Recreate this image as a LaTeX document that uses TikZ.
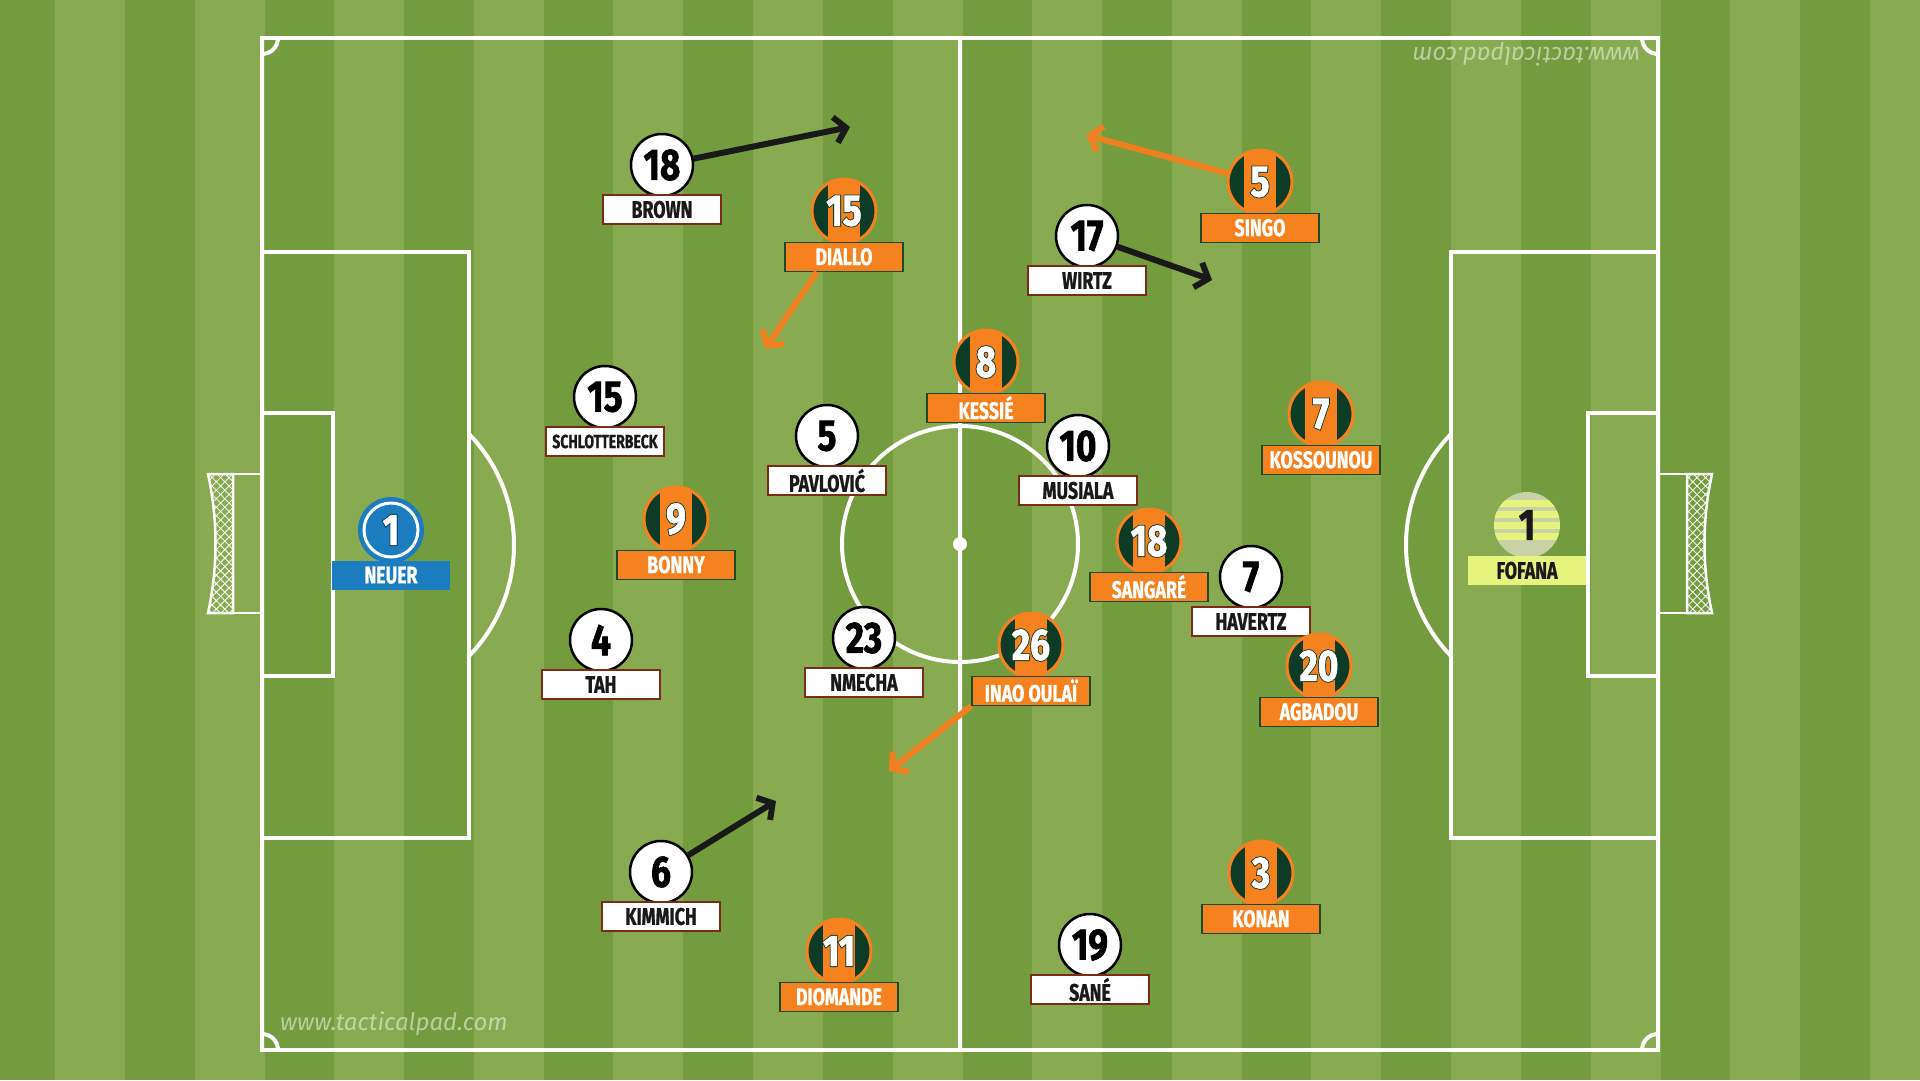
\documentclass[tikz,border=0pt]{standalone}
\usepackage{fontspec}
\setmainfont{Fira Sans}
\newfontfamily\namefont{Fira Sans}[FakeStretch=0.74,FakeBold=0.8]
\newfontfamily\numfont{Fira Sans}[FakeStretch=0.8,FakeBold=1.5]
\newfontfamily\numthick{Fira Sans}[FakeStretch=0.8,FakeBold=5.5]
\newfontfamily\wmfont{Fira Sans}
\usepackage{tikz}
\usetikzlibrary{positioning,arrows.meta,patterns.meta}

\definecolor{pitchdark}{HTML}{739C3F}
\definecolor{pitchlight}{HTML}{88AA50}
\definecolor{civorange}{HTML}{F5821F}
\definecolor{civgreen}{HTML}{0D3B26}
\definecolor{civedge}{HTML}{1E4A2A}
\definecolor{geredge}{HTML}{7A2C18}
\definecolor{keeperblue}{HTML}{1C7CC0}
\definecolor{keepernavy}{HTML}{0E3552}
\definecolor{keeperlime}{HTML}{E6F47E}
\definecolor{keeperpale}{HTML}{C8D2A6}
\definecolor{runorange}{HTML}{F0801F}

% white digits with a dark rim
\newcommand{\rimnum}[2]{\makebox[0pt]{\color{#1}\numthick\bfseries #2}\makebox[0pt]{#2}}

\begin{document}
\begin{tikzpicture}[x=1pt, y=-1pt,
  chalk/.style={white, line width=4pt},
  net/.style={white, line width=2.5pt, pattern={Hatch[angle=45,distance=6pt,line width=0.8pt]}, pattern color=white},
  watermark/.style={text=white, opacity=0.5, font=\wmfont\itshape\fontsize{24}{24}\selectfont},
  gernum/.style={circle, fill=white, draw=black, line width=2.5pt, minimum size=62pt, inner sep=0pt,
    font=\numfont\bfseries\fontsize{44}{44}\selectfont, text=black},
  civnum/.style={circle, fill=civorange, draw=civorange, line width=3pt, minimum size=64pt, inner sep=0pt,
    font=\numfont\bfseries\fontsize{44}{44}\selectfont, text=white,
    path picture={
      \fill[civgreen] ([xshift=-40pt]path picture bounding box.south) rectangle ([xshift=-16pt]path picture bounding box.north);
      \fill[civgreen] ([xshift=16pt]path picture bounding box.south) rectangle ([xshift=40pt]path picture bounding box.north);}},
  bluekeeper/.style={circle, fill=keeperblue, draw=keeperblue, line width=2pt, minimum size=64pt, inner sep=0pt,
    font=\numfont\bfseries\fontsize{44}{44}\selectfont, text=white,
    path picture={\draw[white, line width=3pt] (path picture bounding box.center) circle (27);}},
  limekeeper/.style={circle, fill=keeperpale, minimum size=66pt, inner sep=0pt,
    font=\numfont\bfseries\fontsize{44}{44}\selectfont, text=black!90,
    path picture={
      \foreach \j in {0,...,3}
        \fill[keeperlime] ([yshift={-8pt-11pt*\j}]path picture bounding box.north west) rectangle ([yshift={-15pt-11pt*\j}]path picture bounding box.north east);}},
  gername/.style={rectangle, fill=white, draw=geredge, line width=1.5pt, minimum width=118pt, minimum height=29pt, inner sep=0pt,
    font=\namefont\bfseries\fontsize{24}{24}\selectfont, text=black!90},
  civname/.style={gername, fill=civorange, draw=civedge, text=white},
  bluename/.style={gername, fill=keeperblue, draw=none, text=white},
  limename/.style={gername, fill=keeperlime, draw=none, text=black!90},
  gerrun/.style={black!90, line width=6pt, -{Straight Barb[length=11pt, width=26pt]}},
  civrun/.style={gerrun, runorange},
]
\useasboundingbox (0,0) rectangle (1920,1080);

% grass
\fill[pitchlight] (0,0) rectangle (1920,1080);
\foreach \k in {0,...,13}
  \fill[pitchdark] ({-14.6+139.6*\k},0) rectangle ({55+139.6*\k},1080);

% markings
\draw[chalk] (262,38) rectangle (1658,1050);
\draw[chalk] (960,38) -- (960,1050);
\draw[chalk] (960,544) circle (118);
\fill[white] (960,544) circle (7);
\draw[chalk] (262,252) rectangle (469,838);
\draw[chalk] (1658,252) rectangle (1451,838);
\draw[chalk] (262,413) rectangle (333,676);
\draw[chalk] (1658,413) rectangle (1588,676);
\draw[chalk] (354.5,545) ++(-44:159.5) arc (-44:44:159.5);
\draw[chalk] (1565.5,545) ++(136:159.5) arc (136:224:159.5);
\draw[chalk] (278,38) arc (0:90:16);
\draw[chalk] (1642,38) arc (180:90:16);
\draw[chalk] (278,1050) arc (0:-90:16);
\draw[chalk] (1642,1050) arc (180:270:16);

% goals
\draw[white, line width=2.5pt] (262,474) -- (208,474) (262,613) -- (208,613);
\draw[net] (208,474) .. controls (218,520) and (218,567) .. (208,613) -- (233,613) -- (233,474) -- cycle;
\draw[white, line width=2.5pt] (1658,474) -- (1712,474) (1658,613) -- (1712,613);
\draw[net] (1712,474) .. controls (1702,520) and (1702,567) .. (1712,613) -- (1687,613) -- (1687,474) -- cycle;

\node[watermark] (wm-low) at (394,1024) {www.tacticalpad.com};
\node[watermark, rotate=180] (wm-high) at (1526,54) {www.tacticalpad.com};

% Germany
\node[bluekeeper] (neuer) at (391,530) {\rimnum{keepernavy}{1}};
\node[bluename, below=-3pt of neuer] (neuer-name) {NEUER};
\node[gernum] (brown) at (662,165) {18};
\node[gername, below=-3pt of brown] (brown-name) {BROWN};
\node[gernum] (wirtz) at (1087,236) {17};
\node[gername, below=-3pt of wirtz] (wirtz-name) {WIRTZ};
\node[gernum] (schlotterbeck) at (605,397) {15};
\node[gername, below=-3pt of schlotterbeck, font=\namefont\bfseries\fontsize{19}{19}\selectfont] (schlotterbeck-name) {SCHLOTTERBECK};
\node[gernum] (pavlovic) at (827,436) {5};
\node[gername, below=-3pt of pavlovic] (pavlovic-name) {PAVLOVIĆ};
\node[gernum] (musiala) at (1078,446) {10};
\node[gername, below=-3pt of musiala] (musiala-name) {MUSIALA};
\node[gernum] (havertz) at (1251,577) {7};
\node[gername, below=-3pt of havertz] (havertz-name) {HAVERTZ};
\node[gernum] (tah) at (601,640) {4};
\node[gername, below=-3pt of tah] (tah-name) {TAH};
\node[gernum] (nmecha) at (864,638) {23};
\node[gername, below=-3pt of nmecha] (nmecha-name) {NMECHA};
\node[gernum] (kimmich) at (661,872) {6};
\node[gername, below=-3pt of kimmich] (kimmich-name) {KIMMICH};
\node[gernum] (sane) at (1090,945) {19};
\node[gername, below=-3pt of sane] (sane-name) {SANÉ};

% Ivory Coast
\node[limekeeper] (fofana) at (1527,525) {1};
\node[limename, below=-3pt of fofana] (fofana-name) {FOFANA};
\node[civnum] (diallo) at (844,211) {\rimnum{civgreen}{15}};
\node[civname, below=-3pt of diallo] (diallo-name) {DIALLO};
\node[civnum] (singo) at (1260,182) {\rimnum{civgreen}{5}};
\node[civname, below=-3pt of singo] (singo-name) {SINGO};
\node[civnum] (kessie) at (986,362) {\rimnum{civgreen}{8}};
\node[civname, below=-3pt of kessie] (kessie-name) {KESSIÉ};
\node[civnum] (kossounou) at (1321,414) {\rimnum{civgreen}{7}};
\node[civname, below=-3pt of kossounou] (kossounou-name) {KOSSOUNOU};
\node[civnum] (bonny) at (676,519) {\rimnum{civgreen}{9}};
\node[civname, below=-3pt of bonny] (bonny-name) {BONNY};
\node[civnum] (sangare) at (1149,541) {\rimnum{civgreen}{18}};
\node[civname, below=-3pt of sangare] (sangare-name) {SANGARÉ};
\node[civnum] (oulai) at (1031,645) {\rimnum{civgreen}{26}};
\node[civname, below=-3pt of oulai] (oulai-name) {INAO OULAÏ};
\node[civnum] (agbadou) at (1319,666) {\rimnum{civgreen}{20}};
\node[civname, below=-3pt of agbadou] (agbadou-name) {AGBADOU};
\node[civnum] (konan) at (1261,873) {\rimnum{civgreen}{3}};
\node[civname, below=-3pt of konan] (konan-name) {KONAN};
\node[civnum] (diomande) at (839,951) {\rimnum{civgreen}{11}};
\node[civname, below=-3pt of diomande] (diomande-name) {DIOMANDE};

% runs
\coordinate (brown-run) at (850,127);
\coordinate (wirtz-run) at (1212,280);
\coordinate (kimmich-run) at (776,801);
\coordinate (diallo-run) at (765,349);
\coordinate (singo-run) at (1086,135);
\coordinate (oulai-run) at (889,771);
\draw[gerrun] (brown) -- (brown-run);
\draw[gerrun] (wirtz) -- (wirtz-run);
\draw[gerrun] (kimmich) -- (kimmich-run);
\draw[civrun] ([xshift=-27pt]diallo-name.south) -- (diallo-run);
\draw[civrun] (singo) -- (singo-run);
\draw[civrun] (oulai-name.south west) -- (oulai-run);
\end{tikzpicture}
\end{document}
